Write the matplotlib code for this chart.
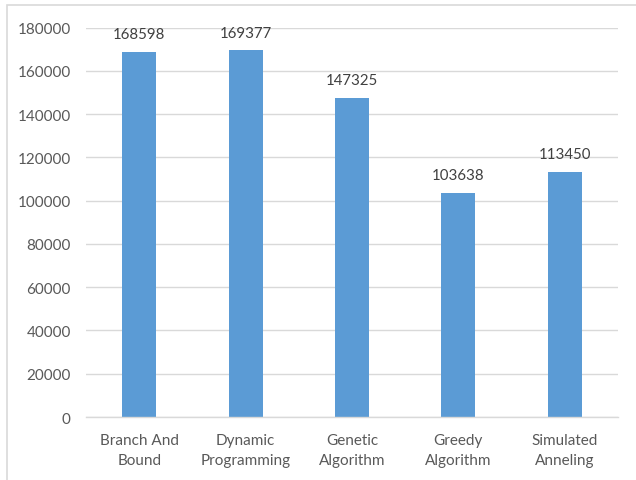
import matplotlib
matplotlib.use("Agg")
import matplotlib.pyplot as plt
from matplotlib.patches import Rectangle

# datos
algoritmos = ["Branch And\nBound", "Dynamic\nProgramming", "Genetic\nAlgorithm",
              "Greedy\nAlgorithm", "Simulated\nAnneling"]
valores = [168598, 169377, 147325, 103638, 113450]
ticks_y = list(range(0, 180001, 20000))

plt.rcParams['font.family'] = ['Lato', 'DejaVu Sans']
texto = '#595959'

fig = plt.figure(figsize=(6.36, 4.81), dpi=100)
ax = fig.add_axes([86 / 636, 1 - 418 / 481, (618 - 86) / 636, (418 - 28.5) / 481])

# marco del grafico (recortado a la derecha y abajo)
fig.patches.append(Rectangle((6.5 / 636, -0.1), 1.2, 1 - 5.5 / 481 + 0.1,
                             transform=fig.transFigure, fill=False,
                             edgecolor='#D9D9D9', linewidth=1.2))

x = range(len(algoritmos))
barras = ax.bar(x, valores, width=0.32, color='#5B9BD5', zorder=3)

for b, v in zip(barras, valores):
    ax.text(b.get_x() + b.get_width() / 2, v + 5000, str(v),
            ha='center', va='bottom', fontsize=10.8, color='#404040')

ax.set_xlim(-0.5, len(algoritmos) - 0.5)
ax.set_ylim(0, 180000)
ax.set_yticks(ticks_y)
ax.set_yticklabels([str(t) for t in ticks_y])
ax.set_xticks(list(x))
ax.set_xticklabels(algoritmos, linespacing=1.55)

ax.grid(axis='y', color='#D9D9D9', linewidth=1, zorder=0)
for s in ['top', 'right', 'left']:
    ax.spines[s].set_visible(False)
ax.spines['bottom'].set_color('#D9D9D9')
ax.spines['bottom'].set_linewidth(1)
ax.spines['bottom'].set_zorder(4)

ax.tick_params(axis='both', length=0, labelsize=11, colors=texto)
ax.tick_params(axis='y', pad=11)
ax.tick_params(axis='x', pad=11.5)

fig.savefig("out.png", dpi=100)
